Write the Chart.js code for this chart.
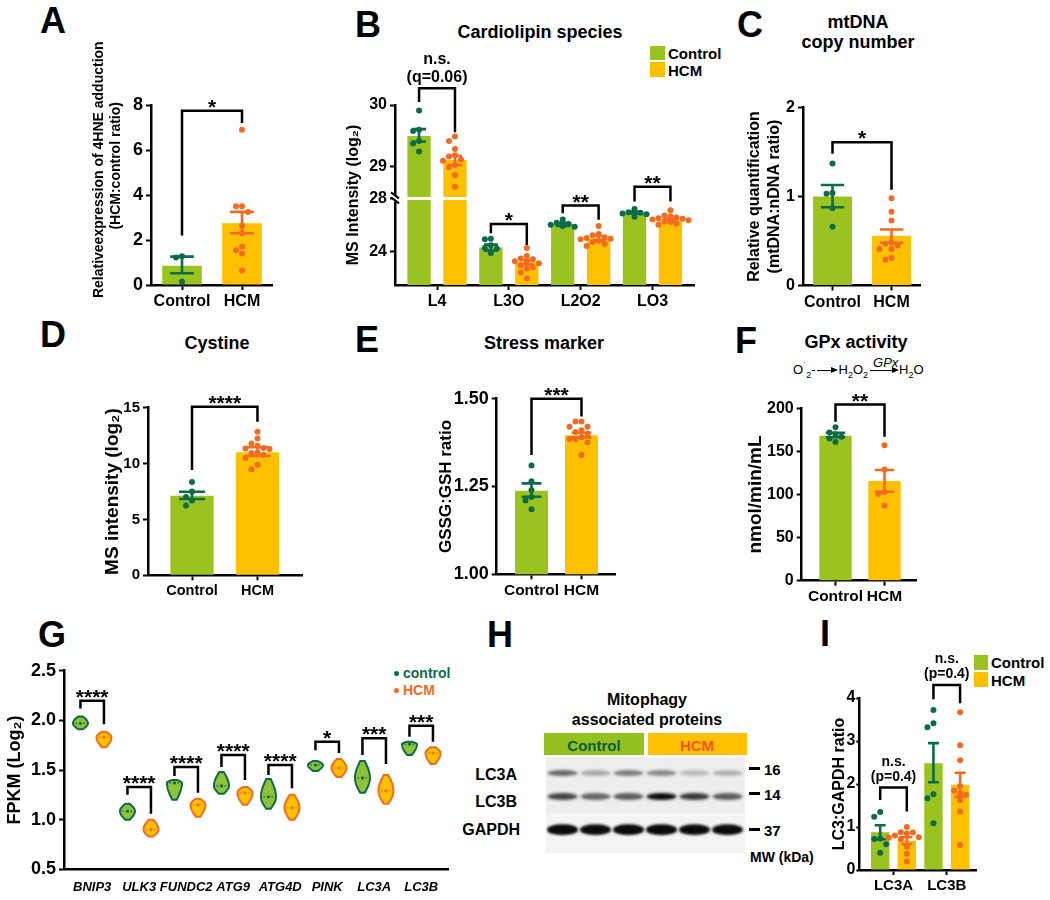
<!DOCTYPE html>
<html>
<head>
<meta charset="utf-8">
<title>Figure</title>
<script src="https://cdn.jsdelivr.net/npm/chart.js@4.4.1/dist/chart.umd.min.js"></script>
<style>
  body { margin: 0; background: #fff; }
  #fig { position: relative; width: 1050px; height: 900px; overflow: hidden; background: #fff;
         font-family: "Liberation Sans", Arial, sans-serif; font-weight: bold; color: #000; }
  #fig canvas { position: absolute; }
  .c { position: absolute; white-space: nowrap; line-height: 1; transform: translate(-50%, -50%); }
  .lt { position: absolute; white-space: nowrap; line-height: 1; transform: translateY(-50%); }
  .rt { position: absolute; white-space: nowrap; line-height: 1; transform: translate(-100%, -50%); }
  .letter { font-size: 36px; }
  .ttl { font-size: 18px; }
  .box { position: absolute; }
  .arr { display: inline-block; position: relative; height: 0; border-top: 1.3px solid #000; vertical-align: middle; margin: 0 2px; }
  .arr:after { content: ""; position: absolute; right: -2px; top: -4.6px; border-left: 7px solid #000;
               border-top: 3.5px solid transparent; border-bottom: 3.5px solid transparent; }
</style>
</head>
<body>
<div id="fig">
  <!-- panel letters -->
  <div class="c letter" style="left:53px;top:21px">A</div>
  <div class="c letter" style="left:368px;top:25px">B</div>
  <div class="c letter" style="left:750px;top:25px">C</div>
  <div class="c letter" style="left:53px;top:335px">D</div>
  <div class="c letter" style="left:367px;top:340px">E</div>
  <div class="c letter" style="left:746px;top:341px">F</div>
  <div class="c letter" style="left:52px;top:635px">G</div>
  <div class="c letter" style="left:500px;top:635px">H</div>
  <div class="c letter" style="left:825px;top:634px">I</div>

  <!-- titles -->
  <div class="c ttl" style="left:540px;top:32px">Cardiolipin species</div>
  <div class="c ttl" style="left:858px;top:22px">mtDNA</div>
  <div class="c ttl" style="left:858px;top:42px">copy number</div>
  <div class="c ttl" style="left:217px;top:343px">Cystine</div>
  <div class="c ttl" style="left:544px;top:343px">Stress marker</div>
  <div class="c ttl" style="left:856px;top:342px">GPx activity</div>

  <!-- GPx reaction -->
  <div class="lt" style="left:793px;top:371px;font-weight:normal;font-size:13px">
    O<sup style="font-size:9px">˙</sup><sub style="font-size:9px">2</sub>-<span class="arr" style="width:19px"></span>H<sub style="font-size:9px">2</sub>O<sub style="font-size:9px">2</sub><span class="arr" style="width:27px"><span style="position:absolute;left:3px;top:-15px;font-style:italic;font-size:13px">GPx</span></span>H<sub style="font-size:9px">2</sub>O
  </div>

  <!-- legend B -->
  <div class="box" style="left:650px;top:46px;width:15px;height:14px;background:#9bc31f"></div>
  <div class="box" style="left:650px;top:62px;width:15px;height:15px;background:#ffc000"></div>
  <div class="lt" style="left:668px;top:53px;font-size:15px">Control</div>
  <div class="lt" style="left:668px;top:70px;font-size:15px">HCM</div>

  <!-- legend G -->
  <div class="box" style="left:394px;top:671px;width:5px;height:5px;border-radius:50%;background:#0d6b48"></div>
  <div class="lt" style="left:403px;top:673px;font-size:14px;color:#0d6b48">control</div>
  <div class="box" style="left:394px;top:688px;width:5px;height:5px;border-radius:50%;background:#f26b21"></div>
  <div class="lt" style="left:403px;top:690px;font-size:14px;color:#f26b21">HCM</div>

  <!-- legend I -->
  <div class="box" style="left:974px;top:655px;width:14px;height:15px;background:#9bc31f"></div>
  <div class="box" style="left:974px;top:672px;width:14px;height:15px;background:#ffc000"></div>
  <div class="lt" style="left:991px;top:662px;font-size:15px">Control</div>
  <div class="lt" style="left:991px;top:680px;font-size:15px">HCM</div>

  <!-- H: western blot -->
  <div class="c" style="left:647px;top:700px;font-size:16px">Mitophagy</div>
  <div class="c" style="left:647px;top:720px;font-size:16px">associated proteins</div>
  <div class="box" style="left:544px;top:733px;width:100px;height:22px;background:#93c01f"></div>
  <div class="box" style="left:648px;top:733px;width:99px;height:22px;background:#ffc000"></div>
  <div class="c" style="left:594px;top:745px;font-size:15px;color:#0b5e3c">Control</div>
  <div class="c" style="left:697px;top:745px;font-size:15px;color:#f0552a">HCM</div>
  <div class="rt" style="left:517px;top:775px;font-size:16px">LC3A</div>
  <div class="rt" style="left:517px;top:802px;font-size:16px">LC3B</div>
  <div class="rt" style="left:520px;top:830px;font-size:16px">GAPDH</div>
  <div class="box" style="left:749px;top:767px;width:11px;height:3px;background:#000"></div>
  <div class="lt" style="left:764px;top:769px;font-size:15px">16</div>
  <div class="box" style="left:749px;top:792px;width:11px;height:3px;background:#000"></div>
  <div class="lt" style="left:764px;top:794px;font-size:15px">14</div>
  <div class="box" style="left:749px;top:828px;width:11px;height:3px;background:#000"></div>
  <div class="lt" style="left:764px;top:830px;font-size:15px">37</div>
  <div class="lt" style="left:750px;top:857px;font-size:14px">MW (kDa)</div>
  <canvas id="blot" width="199" height="96" style="left:546px;top:757px"></canvas>

  <canvas id="cA"></canvas>
  <canvas id="cB"></canvas>
  <canvas id="cC"></canvas>
  <canvas id="cD"></canvas>
  <canvas id="cE"></canvas>
  <canvas id="cF"></canvas>
  <canvas id="cG"></canvas>
  <canvas id="cI"></canvas>
</div>

<script>
// ---------- colours
var green = '#9bc31f', yellow = '#ffc000', dkGreen = '#0d6b48', orange = '#f26b21';
var fam = '"Liberation Sans", Arial, sans-serif';

// ---------- A: 4HNE adduction
var aLabels = ['Control', 'HCM'];
var aMeans = [0.86, 2.75];
var aSemHi = [1.26, 3.25];
var aSemLo = [0.52, 2.3];
var aCtrlPts = [1.28, 1.22, 0.15];
var aHcmPts = [6.9, 3.5, 3.5, 3.25, 2.65, 2.3, 1.7, 1.55, 1.4, 0.65];
var aTicks = [0, 2, 4, 6, 8];

// ---------- B: cardiolipin species (broken axis)
var bLabels = ['L4', 'L3O', 'L2O2', 'LO3'];
var bCtrlMeans = [29.5, 24.33, 26.11, 26.97];
var bHcmMeans = [29.11, 23.25, 25.03, 26.4];
var bCtrlHi = [29.61, 24.55, 26.2, 27.05];
var bCtrlLo = [29.41, 24.1, 25.97, 26.9];
var bHcmHi = [29.18, 23.4, 25.2, 26.5];
var bHcmLo = [29.03, 23.05, 24.85, 26.3];
var bCtrlPts = [
  [29.91, 29.6, 29.58, 29.42, 29.38, 29.25],
  [25.0, 24.95, 24.5, 24.3, 24.25, 23.9],
  [26.45, 26.2, 26.1, 26.05, 25.95, 25.9],
  [27.25, 27.0, 26.95, 26.9, 26.85, 26.65]
];
var bHcmPts = [
  [29.49, 29.42, 29.29, 29.19, 29.17, 29.12, 29.1, 29.03, 29.0, 28.87, 28.68],
  [24.3, 23.7, 23.5, 23.45, 23.3, 23.2, 23.15, 23.0, 22.85, 22.75, 22.45, 22.0],
  [25.95, 25.35, 25.25, 25.1, 25.05, 25.0, 24.95, 24.85, 24.75, 24.6, 24.45],
  [27.15, 26.75, 26.7, 26.6, 26.55, 26.5, 26.45, 26.4, 26.3, 26.25, 26.15, 26.05]
];
var bTicks = [24, 28, 29, 30];
// value -> axis fraction for the broken axis (lower 21.5-28, upper 28.5-30)
var bKnots = [[21.5, 0], [28, 0.478], [28.5, 0.484], [30, 1]];
var bBreak = 28.25;

// ---------- C: mtDNA copy number
var cLabels = ['Control', 'HCM'];
var cMeans = [1.0, 0.56];
var cSemHi = [1.13, 0.63];
var cSemLo = [0.88, 0.48];
var cCtrlPts = [1.37, 1.04, 1.03, 0.87, 0.66];
var cHcmPts = [0.98, 0.83, 0.73, 0.48, 0.47, 0.45, 0.41, 0.41, 0.31, 0.29];
var cTicks = [0, 1, 2];

// ---------- D: cystine
var dLabels = ['Control', 'HCM'];
var dMeans = [7.12, 11.01];
var dSemHi = [7.48, 11.46];
var dSemLo = [6.83, 10.68];
var dCtrlPts = [8.35, 7.5, 7.0, 6.7, 6.25];
var dHcmPts = [12.85, 12.25, 11.8, 11.6, 11.4, 11.35, 11.3, 11.0, 10.95, 10.8, 10.5, 9.9, 9.5];
var dTicks = [0, 5, 10, 15];

// ---------- E: GSSG:GSH
var eLabels = ['Control', 'HCM'];
var eMeans = [1.238, 1.396];
var eSemHi = [1.259, 1.403];
var eSemLo = [1.221, 1.39];
var eCtrlPts = [1.31, 1.265, 1.24, 1.22, 1.21, 1.185];
var eHcmPts = [1.435, 1.435, 1.42, 1.42, 1.41, 1.405, 1.40, 1.39, 1.385, 1.385, 1.375, 1.34];
var eTicks = [1.0, 1.25, 1.5];

// ---------- F: GPx activity
var fLabels = ['Control', 'HCM'];
var fMeans = [168.2, 115.7];
var fSemHi = [171.7, 128.4];
var fSemLo = [166.4, 103.2];
var fCtrlPts = [178, 172, 170, 167, 165, 161];
var fHcmPts = [157, 129, 103, 101, 87];
var fTicks = [0, 50, 100, 150, 200];

// ---------- G: mitophagy genes (violins)
var gGenes = ['BNIP3', 'ULK3', 'FUNDC2', 'ATG9', 'ATG4D', 'PINK', 'LC3A', 'LC3B'];
var gCtrlMin = [1.91, 1.0, 1.2, 1.26, 1.11, 1.49, 1.27, 1.65];
var gCtrlMax = [2.04, 1.16, 1.4, 1.48, 1.41, 1.59, 1.59, 1.785];
var gCtrlMid = [1.97, 1.085, 1.37, 1.34, 1.23, 1.55, 1.42, 1.76];
var gHcmMin = [1.73, 0.83, 1.03, 1.15, 1.0, 1.43, 1.16, 1.56];
var gHcmMax = [1.885, 1.0, 1.21, 1.33, 1.25, 1.61, 1.45, 1.73];
var gHcmMid = [1.83, 0.9, 1.15, 1.27, 1.12, 1.52, 1.29, 1.67];
var gBrTop = [2.197, 1.33, 1.53, 1.65, 1.55, 1.785, 1.82, 1.945];
var gBrCtrl = [2.12, 1.25, 1.44, 1.53, 1.45, 1.70, 1.65, 1.835];
var gBrHcm = [1.96, 1.06, 1.27, 1.40, 1.315, 1.67, 1.56, 1.785];
var gStars = ['****', '****', '****', '****', '****', '*', '***', '***'];
var gTicks = [0.5, 1.0, 1.5, 2.0, 2.5];

// ---------- H: blot band darkness per lane
var blotLC3A = [0.6, 0.3, 0.5, 0.45, 0.22, 0.28];
var blotLC3B = [0.75, 0.6, 0.65, 1.0, 0.8, 0.65];
var blotGAPDH = [1.0, 0.95, 1.0, 1.0, 0.95, 0.95];

// ---------- I: LC3:GAPDH
var iLabels = ['LC3A', 'LC3B'];
var iCtrlMeans = [0.877, 2.48];
var iHcmMeans = [0.68, 1.98];
var iCtrlHi = [1.04, 2.95];
var iCtrlLo = [0.714, 2.04];
var iHcmHi = [0.76, 2.26];
var iHcmLo = [0.605, 1.70];
var iCtrlPts = [[1.35, 1.24, 0.73, 0.72, 0.6, 0.4], [3.72, 3.41, 3.32, 1.76, 1.67, 1.09]];
var iHcmPts = [[1.0, 0.88, 0.87, 0.85, 0.8, 0.76, 0.75, 0.72, 0.54, 0.38, 0.2],
               [3.67, 2.9, 2.55, 1.95, 1.85, 1.78, 1.75, 1.62, 1.36, 0.58]];
var iTicks = [0, 1, 2, 3, 4];

Chart.defaults.font.family = fam;
Chart.defaults.font.weight = 'bold';
Chart.defaults.color = '#000';

// piecewise linear y scale for the broken axis of B
class BrokenScale extends Chart.LinearScale {
  getPixelForValue(v) {
    var k = bKnots, j = 1;
    while (j < k.length - 1 && v > k[j][0]) j++;
    var a = k[j - 1], b = k[j];
    return this.getPixelForDecimal(a[1] + (v - a[0]) * (b[1] - a[1]) / (b[0] - a[0]));
  }
}
BrokenScale.id = 'broken';
Chart.register(BrokenScale);

// jittered dot positions (simple beeswarm)
function swarm(vals, ys, cx, r) {
  var pys = vals.map(function (v) { return ys.getPixelForValue(v); }).sort(function (a, b) { return a - b; });
  var placed = [], d = 2 * r;
  pys.forEach(function (py) {
    for (var k = 0; k < 30; k++) {
      var x = cx + Math.ceil(k / 2) * (k % 2 ? -1 : 1) * d;
      var ok = placed.every(function (q) { return (q.x - x) * (q.x - x) + (q.y - py) * (q.y - py) >= d * d * 0.9; });
      if (ok) { placed.push({x: x, y: py}); return; }
    }
    placed.push({x: cx, y: py});
  });
  return placed;
}

function drawViolin(ctx, xs, ys, v, hw) {
  var cx = xs.getPixelForValue(v.x), yt = ys.getPixelForValue(v.max), yb = ys.getPixelForValue(v.min);
  var ym = ys.getPixelForValue(v.mid);
  var tm = Math.min(0.9, Math.max(0.1, (ym - yt) / (yb - yt))), n = 24, left = [], right = [];
  for (var k = 0; k <= n; k++) {
    var t = k / n, u = t < tm ? (tm - t) / tm : (t - tm) / (1 - tm);
    var w = hw * (0.3 + 0.7 * Math.cos(Math.min(u, 1) * Math.PI / 2));
    var y = yt + t * (yb - yt);
    right.push([cx + w, y]); left.push([cx - w, y]);
  }
  ctx.beginPath();
  right.forEach(function (p, k) { if (k) ctx.lineTo(p[0], p[1]); else ctx.moveTo(p[0], p[1]); });
  left.reverse().forEach(function (p) { ctx.lineTo(p[0], p[1]); });
  ctx.closePath();
  ctx.fillStyle = v.fill; ctx.fill();
  ctx.strokeStyle = v.line; ctx.lineWidth = 2; ctx.stroke();
  ctx.setLineDash([2, 2]); ctx.lineWidth = 1;
  ctx.beginPath(); ctx.moveTo(cx - hw * 0.7, ym); ctx.lineTo(cx + hw * 0.7, ym); ctx.stroke();
  ctx.setLineDash([]);
}

var extras = {};
var marks = {
  id: 'marks',
  beforeDatasetsDraw: function (chart) {
    var m = extras[chart.canvas.id];
    if (!m || !m.violins) return;
    var ctx = chart.ctx;
    ctx.save();
    m.violins.forEach(function (v) { drawViolin(ctx, chart.scales.x, chart.scales.y, v, 7.5); });
    ctx.restore();
  },
  afterDatasetsDraw: function (chart) {
    var m = extras[chart.canvas.id];
    if (!m) return;
    var ctx = chart.ctx, xs = chart.scales.x, ys = chart.scales.y, ca = chart.chartArea;
    ctx.save();
    if (m.brk !== undefined) {
      var yb = ys.getPixelForValue(m.brk);
      ctx.fillStyle = '#fff';
      ctx.fillRect(ca.left + 2, yb - 1.5, ca.right - ca.left, 3);
      ctx.fillRect(ca.left - 3, yb - 3, 6, 6);
      ctx.strokeStyle = '#000'; ctx.lineWidth = 2.2;
      ctx.beginPath();
      ctx.moveTo(ca.left - 4, yb - 6); ctx.lineTo(ca.left + 4, yb);
      ctx.moveTo(ca.left - 4, yb - 1); ctx.lineTo(ca.left + 4, yb + 5);
      ctx.stroke();
    }
    (m.groups || []).forEach(function (g) {
      var bar = chart.getDatasetMeta(g.ds).data[g.i];
      var cx = bar.x, cap = bar.width * 0.3;
      ctx.fillStyle = g.color;
      swarm(g.pts, ys, cx, 3).forEach(function (p) {
        ctx.beginPath(); ctx.arc(p.x, p.y, 3, 0, Math.PI * 2); ctx.fill();
      });
      var yh = ys.getPixelForValue(g.hi), yl = ys.getPixelForValue(g.lo);
      ctx.strokeStyle = g.color; ctx.lineWidth = 2.6;
      ctx.beginPath();
      ctx.moveTo(cx, yh); ctx.lineTo(cx, yl);
      ctx.moveTo(cx - cap, yh); ctx.lineTo(cx + cap, yh);
      ctx.moveTo(cx - cap, yl); ctx.lineTo(cx + cap, yl);
      ctx.stroke();
    });
    (m.brackets || []).forEach(function (b) {
      var px = function (r) { return typeof r === 'number' ? xs.getPixelForValue(r) : chart.getDatasetMeta(r[0]).data[r[1]].x; };
      var x1 = px(b.a), x2 = px(b.b), top = ys.getPixelForValue(b.top);
      ctx.strokeStyle = '#000'; ctx.lineWidth = 2.5; ctx.lineJoin = 'miter';
      ctx.beginPath();
      ctx.moveTo(x1, ys.getPixelForValue(b.ya)); ctx.lineTo(x1, top); ctx.lineTo(x2, top); ctx.lineTo(x2, ys.getPixelForValue(b.yb));
      ctx.stroke();
      ctx.fillStyle = '#000'; ctx.textAlign = 'center';
      var cx = (x1 + x2) / 2;
      if (b.text[0].charAt(0) === '*') {
        ctx.font = 'bold 21px ' + fam; ctx.textBaseline = 'alphabetic';
        ctx.fillText(b.text[0], cx, top - 9 + 0.57 * 21);
      } else {
        ctx.font = 'bold ' + m.labSize + 'px ' + fam; ctx.textBaseline = 'middle';
        b.text.forEach(function (t, k) { ctx.fillText(t, cx, top - 10.5 - (b.text.length - 1 - k) * m.labLine); });
      }
    });
    ctx.restore();
  }
};

function grid(len) {
  return {display: true, drawOnChartArea: false, drawTicks: len > 0, tickLength: len, tickWidth: 2, tickColor: '#000', color: '#000', offset: false};
}
function border() { return {display: true, color: '#000', width: 2.5}; }

function panel(id, o) {
  var cv = document.getElementById(id);
  cv.width = o.box[2]; cv.height = o.box[3];
  cv.style.left = o.box[0] + 'px'; cv.style.top = o.box[1] + 'px';
  extras[id] = o.extra || {};
  var xH = o.box[1] + o.box[3] - o.area[3];
  var yW = o.area[0] - o.box[0];
  return new Chart(cv, {
    type: o.type || 'bar',
    data: {datasets: o.datasets},
    options: {
      responsive: false, animation: false, events: [],
      layout: {padding: {left: 0, bottom: 0, top: o.area[1] - o.box[1], right: o.box[0] + o.box[2] - o.area[2]}},
      plugins: {legend: {display: false}, tooltip: {enabled: false}},
      scales: {
        x: {
          type: 'linear', min: o.xMin, max: o.xMax, offset: false,
          grid: grid(o.xTick === undefined ? 5 : o.xTick), border: border(),
          afterBuildTicks: function (s) { s.ticks = o.labels.map(function (l, i) { return {value: i}; }); },
          afterFit: function (s) { s.height = xH; },
          ticks: {autoSkip: false, maxRotation: 0, padding: o.xPad === undefined ? 2 : o.xPad, font: o.xFont,
                  callback: function (v) { return o.labels[v]; }}
        },
        y: {
          type: o.yType || 'linear', min: o.yMin, max: o.yMax,
          grid: grid(o.yTick === undefined ? 5 : o.yTick), border: border(),
          afterBuildTicks: function (s) { s.ticks = o.yTicks.map(function (v) { return {value: v}; }); },
          afterFit: function (s) { s.width = yW; },
          ticks: {padding: o.yPad === undefined ? 3 : o.yPad, font: o.yFont, callback: o.yFmt || function (v) { return v; }},
          title: {display: true, text: o.yTitle, font: o.titleFont, padding: 0}
        }
      }
    },
    plugins: [marks]
  });
}

function xy(vals, off) { return vals.map(function (v, i) { return {x: i + (off || 0), y: v}; }); }
function oneBars(means) {
  return [{data: xy(means), backgroundColor: [green, yellow], borderWidth: 0, categoryPercentage: 1, barPercentage: 0.66}];
}
function twoGroups(ctrlPts, hcmPts, hi, lo) {
  return [
    {ds: 0, i: 0, pts: ctrlPts, hi: hi[0], lo: lo[0], color: dkGreen},
    {ds: 0, i: 1, pts: hcmPts, hi: hi[1], lo: lo[1], color: orange}
  ];
}
// leading spaces nudge a rotated axis title towards the top of the axis
function lift(n, s) { return '\u00a0'.repeat(n) + s; }

// A
panel('cA', {
  box: [91, 30, 190, 300], area: [151, 105, 272, 285],
  xMin: -0.517, xMax: 1.5, labels: aLabels, xFont: {size: 16},
  yMin: 0, yMax: 8, yTicks: aTicks, yFont: {size: 18},
  yTitle: [lift(13, 'Relativeexpression of 4HNE adduction'), lift(15, '(HCM:control ratio)')],
  titleFont: {size: 14, lineHeight: 1.2},
  datasets: oneBars(aMeans),
  extra: {
    groups: twoGroups(aCtrlPts, aHcmPts, aSemHi, aSemLo),
    brackets: [{a: [0, 0], b: [0, 1], ya: 2.2, top: 7.75, yb: 7.2, text: ['*']}]
  }
});

// B
var bGroups = [], bBrackets = [];
var bBrTop = [30.27, 26.11, 27.5, 28.68], bBrCtrl = [30.05, 25.41, 26.92, 27.8], bBrHcm = [29.56, 24.53, 26.42, 27.8];
var bBrText = [['n.s.', '(q=0.06)'], ['*'], ['**'], ['**']];
bLabels.forEach(function (l, i) {
  bGroups.push({ds: 0, i: i, pts: bCtrlPts[i], hi: bCtrlHi[i], lo: bCtrlLo[i], color: dkGreen});
  bGroups.push({ds: 1, i: i, pts: bHcmPts[i], hi: bHcmHi[i], lo: bHcmLo[i], color: orange});
  bBrackets.push({a: [0, i], b: [1, i], ya: bBrCtrl[i], top: bBrTop[i], yb: bBrHcm[i], text: bBrText[i]});
});
panel('cB', {
  box: [344, 40, 360, 290], area: [395, 105, 694, 285],
  xMin: -0.585, xMax: 3.578, labels: bLabels, xFont: {size: 16},
  yType: 'broken', yMin: 21.5, yMax: 30, yTicks: bTicks, yFont: {size: 16},
  yTitle: 'MS Intensity (log\u2082)', titleFont: {size: 16, lineHeight: 1.2},
  datasets: [
    {label: 'Control', data: xy(bCtrlMeans), backgroundColor: green, borderWidth: 0, categoryPercentage: 1, barPercentage: 0.65},
    {label: 'HCM', data: xy(bHcmMeans), backgroundColor: yellow, borderWidth: 0, categoryPercentage: 1, barPercentage: 0.65}
  ],
  extra: {brk: bBreak, groups: bGroups, brackets: bBrackets, labSize: 16, labLine: 18}
});

// C
panel('cC', {
  box: [745, 45, 190, 285], area: [803, 107.5, 920, 285.5],
  xMin: -0.5, xMax: 1.483, labels: cLabels, xFont: {size: 16},
  yMin: 0, yMax: 2, yTicks: cTicks, yFont: {size: 16},
  yTitle: ['Relative quantification', '(mtDNA:nDNA ratio)'], titleFont: {size: 16, lineHeight: 1.22},
  datasets: oneBars(cMeans),
  extra: {
    groups: twoGroups(cCtrlPts, cHcmPts, cSemHi, cSemLo),
    brackets: [{a: [0, 0], b: [0, 1], ya: 1.48, top: 1.61, yb: 1.075, text: ['*']}]
  }
});

// D
panel('cD', {
  box: [101, 370, 211, 240], area: [148, 407.7, 302, 575.3],
  xMin: -0.672, xMax: 1.68, labels: dLabels, xFont: {size: 14.5},
  yMin: 0, yMax: 15, yTicks: dTicks, yFont: {size: 15},
  yTitle: 'MS intensity (log\u2082)', titleFont: {size: 19, lineHeight: 1.2},
  datasets: oneBars(dMeans),
  extra: {
    groups: twoGroups(dCtrlPts, dHcmPts, dSemHi, dSemLo),
    brackets: [{a: [0, 0], b: [0, 1], ya: 9.43, top: 15.09, yb: 13.75, text: ['****']}]
  }
});

// E
panel('cE', {
  box: [436, 370, 191, 240], area: [496.7, 398.7, 615, 574.3],
  xMin: -0.696, xMax: 1.67, labels: eLabels, xFont: {size: 15.5},
  yMin: 1.0, yMax: 1.5, yTicks: eTicks, yFont: {size: 18},
  yFmt: function (v) { return v.toFixed(2); },
  yTitle: 'GSSG:GSH ratio', titleFont: {size: 17, lineHeight: 1.2},
  datasets: oneBars(eMeans),
  extra: {
    groups: twoGroups(eCtrlPts, eHcmPts, eSemHi, eSemLo),
    brackets: [{a: [0, 0], b: [0, 1], ya: 1.34, top: 1.5, yb: 1.449, text: ['***']}]
  }
});

// F
panel('cF', {
  box: [744, 380, 185, 230], area: [801.7, 408.3, 916.7, 580.7],
  xMin: -0.69, xMax: 1.657, labels: fLabels, xFont: {size: 15.5},
  yMin: 0, yMax: 200, yTicks: fTicks, yFont: {size: 16},
  yTitle: 'nmol/min/mL', titleFont: {size: 19, lineHeight: 1.2},
  datasets: oneBars(fMeans),
  extra: {
    groups: twoGroups(fCtrlPts, fHcmPts, fSemHi, fSemLo),
    brackets: [{a: [0, 0], b: [0, 1], ya: 184.4, top: 204.3, yb: 167, text: ['**']}]
  }
});

// G
var gViolins = [], gBrackets = [];
gGenes.forEach(function (g, i) {
  gViolins.push({x: i - 0.25, min: gCtrlMin[i], max: gCtrlMax[i], mid: gCtrlMid[i], fill: '#8fc23a', line: dkGreen});
  gViolins.push({x: i + 0.25, min: gHcmMin[i], max: gHcmMax[i], mid: gHcmMid[i], fill: yellow, line: orange});
  gBrackets.push({a: i - 0.25, b: i + 0.25, ya: gBrCtrl[i], top: gBrTop[i], yb: gBrHcm[i], text: [gStars[i]]});
});
panel('cG', {
  type: 'scatter',
  box: [4, 620, 455, 280], area: [64, 670.7, 448, 869.3],
  xMin: -0.6, xMax: 7.57, labels: gGenes, xFont: {size: 13, style: 'italic'}, xTick: 0, xPad: 10,
  yMin: 0.5, yMax: 2.5, yTicks: gTicks, yFont: {size: 18},
  yFmt: function (v) { return v.toFixed(1); },
  yTitle: 'FPKM (Log\u2082)', titleFont: {size: 18, lineHeight: 1.2},
  datasets: [
    {label: 'control', data: xy(gCtrlMid, -0.25), pointRadius: 1.6, backgroundColor: dkGreen, borderWidth: 0},
    {label: 'HCM', data: xy(gHcmMid, 0.25), pointRadius: 1.6, backgroundColor: orange, borderWidth: 0}
  ],
  extra: {violins: gViolins, brackets: gBrackets}
});

// I
var iGroups = [], iBrackets = [];
var iBrTop = [1.92, 4.30], iBrCtrl = [1.63, 3.97], iBrHcm = [1.36, 3.88];
iLabels.forEach(function (l, i) {
  iGroups.push({ds: 0, i: i, pts: iCtrlPts[i], hi: iCtrlHi[i], lo: iCtrlLo[i], color: dkGreen});
  iGroups.push({ds: 1, i: i, pts: iHcmPts[i], hi: iHcmHi[i], lo: iHcmLo[i], color: orange});
  iBrackets.push({a: [0, i], b: [1, i], ya: iBrCtrl[i], top: iBrTop[i], yb: iBrHcm[i], text: ['n.s.', '(p=0.4)']});
});
panel('cI', {
  box: [830, 640, 164, 260], area: [859.3, 698, 976.7, 870],
  xMin: -0.642, xMax: 1.562, labels: iLabels, xFont: {size: 15},
  yMin: 0, yMax: 4, yTicks: iTicks, yFont: {size: 16}, yTick: 3, yPad: 1,
  yTitle: 'LC3:GAPDH ratio', titleFont: {size: 16, lineHeight: 1.2},
  datasets: [
    {label: 'Control', data: xy(iCtrlMeans), backgroundColor: green, borderWidth: 0, categoryPercentage: 1, barPercentage: 0.69},
    {label: 'HCM', data: xy(iHcmMeans), backgroundColor: yellow, borderWidth: 0, categoryPercentage: 1, barPercentage: 0.69}
  ],
  extra: {groups: iGroups, brackets: iBrackets, labSize: 14, labLine: 15}
});

// H blot image
(function () {
  var ctx = document.getElementById('blot').getContext('2d');
  ctx.fillStyle = '#eeeeee'; ctx.fillRect(0, 0, 199, 96);
  ctx.fillStyle = '#f4f4f4'; ctx.fillRect(0, 56, 199, 40);
  ctx.filter = 'blur(1.6px)';
  function bands(vals, y, h) {
    vals.forEach(function (a, k) {
      var cx = 16.5 + 33 * k;
      ctx.fillStyle = 'rgba(10,10,10,' + a + ')';
      ctx.beginPath();
      ctx.ellipse(cx, y, 15, h / 2, 0, 0, Math.PI * 2);
      ctx.fill();
    });
  }
  bands(blotLC3A, 16, 6);
  bands(blotLC3B, 39.5, 7);
  bands(blotGAPDH, 72.5, 10);
  bands(blotGAPDH, 73, 8);
})();
</script>
</body>
</html>
